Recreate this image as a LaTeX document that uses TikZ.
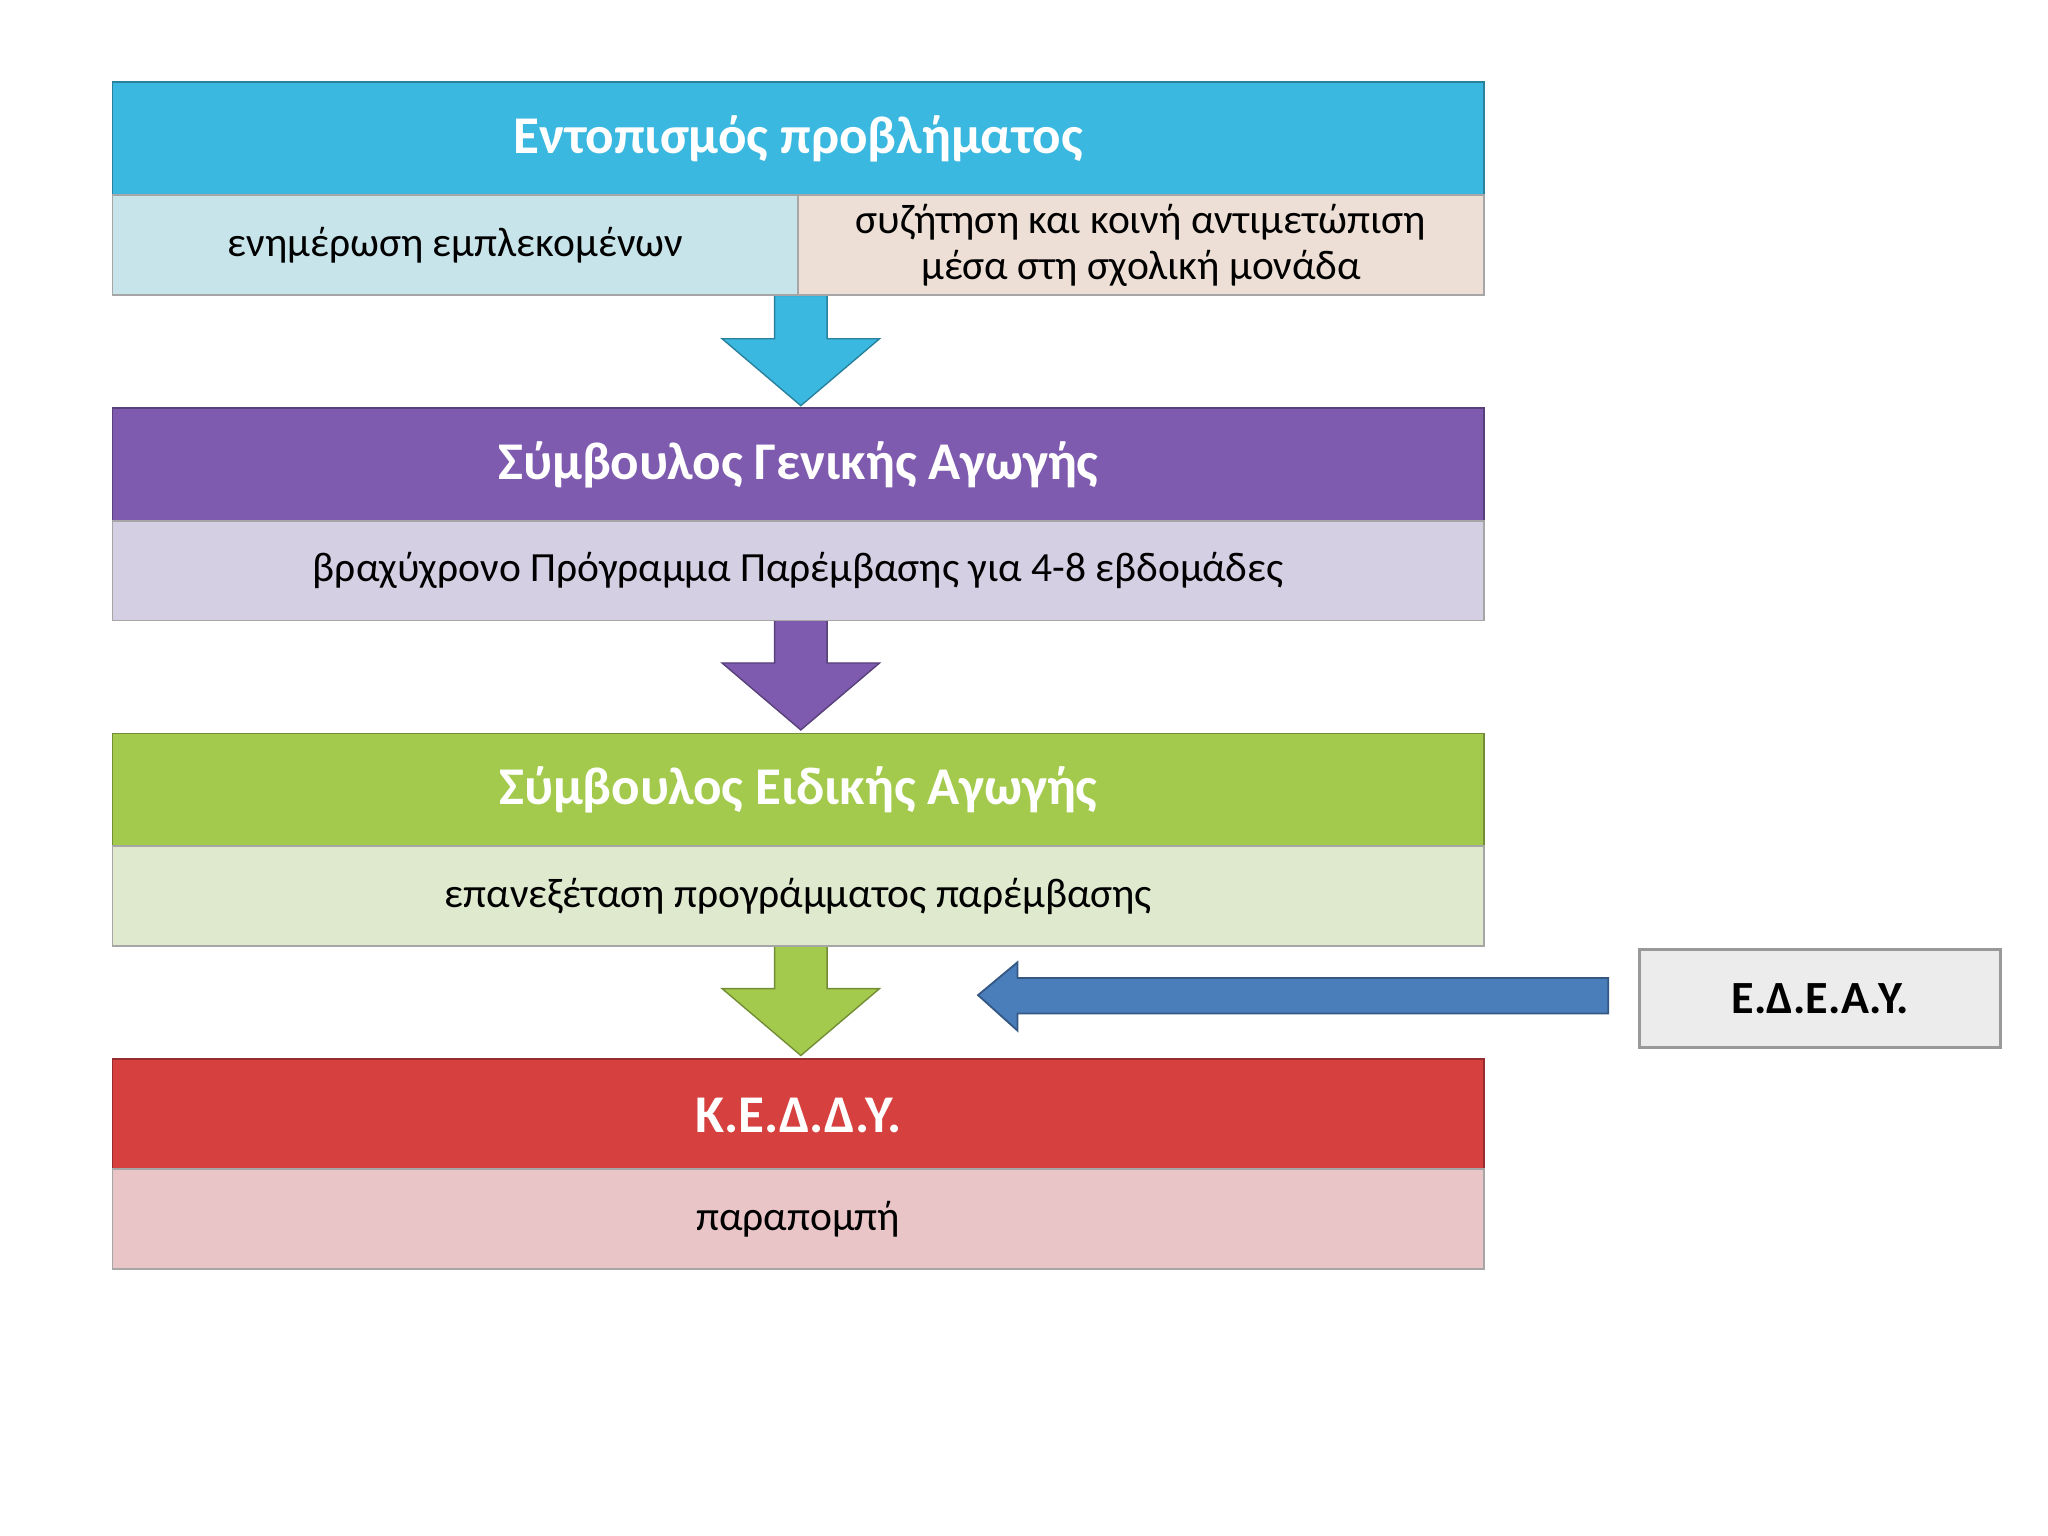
\documentclass[tikz,border=0pt]{standalone}
\usepackage{fontspec}
\setmainfont{Carlito}
\begin{document}
\begin{tikzpicture}[x=0.02cm,y=-0.02cm,
 hdr/.style={draw=#1!70!black,line width=0.8pt,fill=#1,anchor=north west,minimum height=1.72cm,inner sep=0pt,text=white,font=\fontsize{23}{26}\selectfont\bfseries},
 sub/.style={draw=gray!70,line width=0.8pt,fill=#1,anchor=north west,minimum height=1.52cm,inner sep=0pt,text=black,font=\fontsize{18}{20}\selectfont,align=center},
 darr/.style={fill=#1,draw=#1!70!black,line width=0.6pt}]
\useasboundingbox (0,0) rectangle (1560,1170);
\definecolor{c1}{HTML}{3BB8E0}\definecolor{c1a}{HTML}{C8E4EB}\definecolor{c1b}{HTML}{EDDFD5}
\definecolor{c2}{HTML}{7E5BAE}\definecolor{c2a}{HTML}{D4CFE3}
\definecolor{c3}{HTML}{A3CA4C}\definecolor{c3a}{HTML}{DFE9CD}
\definecolor{c4}{HTML}{D6403F}\definecolor{c4a}{HTML}{EAC5C8}
\definecolor{bl}{HTML}{4A7EBB}
% arrows
\foreach \y/\c in {225/c1,472/c2,720/c3}{
 \path[darr=\c] (590,\y) -- (630,\y) -- (630,\y+33) -- (670,\y+33) -- (610,\y+84) -- (550,\y+33) -- (590,\y+33) -- cycle;}
\node[hdr=c1,minimum width=20.9cm] (h1) at (85,62) {Εντοπισμός προβλήματος};
\node[sub=c1a,minimum width=10.44cm] (s1a) at (85,148) {ενημέρωση εμπλεκομένων};
\node[sub=c1b,minimum width=10.46cm] (s1b) at (607,148) {συζήτηση και κοινή αντιμετώπιση\\μέσα στη σχολική μονάδα};
\node[hdr=c2,minimum width=20.9cm] (h2) at (85,310) {Σύμβουλος Γενικής Αγωγής};
\node[sub=c2a,minimum width=20.9cm] (s2) at (85,396) {βραχύχρονο Πρόγραμμα Παρέμβασης για 4-8 εβδομάδες};
\node[hdr=c3,minimum width=20.9cm] (h3) at (85,558) {Σύμβουλος Ειδικής Αγωγής};
\node[sub=c3a,minimum width=20.9cm] (s3) at (85,644) {επανεξέταση προγράμματος παρέμβασης};
\node[hdr=c4,minimum width=20.9cm] (h4) at (85,806) {Κ.Ε.Δ.Δ.Υ.};
\node[sub=c4a,minimum width=20.9cm] (s4) at (85,890) {παραπομπή};
\node[draw=gray!80,line width=1.2pt,fill=gray!15,anchor=north west,minimum width=5.5cm,minimum height=1.5cm,inner sep=0pt,font=\fontsize{20}{22}\selectfont\bfseries] (ed) at (1248,722) {Ε.Δ.Ε.Α.Υ.};
\coordinate (tip) at (745,758);
\path[fill=bl,draw=bl!70!black,line width=0.8pt] (1225,745) -- (775,745) -- (775,733) -- (tip) -- (775,785) -- (775,772) -- (1225,772) -- cycle;
\end{tikzpicture}
\end{document}
